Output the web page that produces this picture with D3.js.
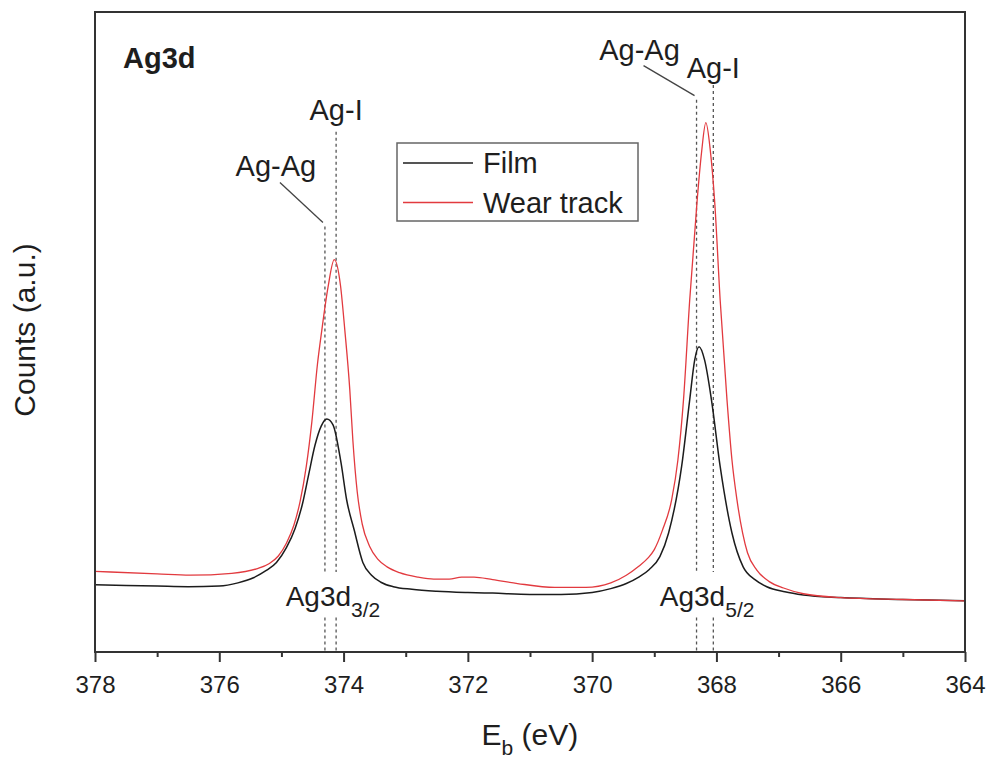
<!DOCTYPE html>
<html>
<head>
<meta charset="utf-8">
<script src="https://cdn.jsdelivr.net/npm/d3@7"></script>
<style>
  body { margin: 0; background: #fff; }
  text { font-family: "Liberation Sans", Arial, sans-serif; fill: #1e1e1e; }
</style>
</head>
<body>
<div id="wrapper"></div>
<script>
// Film (black) spectrum
const filmEnergy = [378.0, 377.0, 376.5, 376.0, 375.7, 375.45, 375.25, 375.08, 374.92, 374.78, 374.66, 374.56, 374.46, 374.36, 374.27, 374.17, 374.04, 373.95, 373.83, 373.69, 373.55, 373.4, 373.2, 372.9, 372.5, 372.0, 371.6, 371.0, 370.5, 370.0, 369.7, 369.45, 369.25, 369.08, 368.91, 368.77, 368.56, 368.43, 368.35, 368.28, 368.19, 368.08, 367.94, 367.75, 367.57, 367.38, 367.19, 366.9, 366.6, 366.0, 365.0, 364.0];
const filmCounts = [10.5, 10.3, 10.2, 10.3, 10.8, 11.6, 12.7, 14.0, 16.3, 19.3, 23.2, 27.8, 32.3, 35.3, 36.4, 35.5, 29.5, 23.75, 19.1, 14.0, 12.0, 10.9, 10.2, 9.8, 9.5, 9.3, 9.2, 9.0, 9.0, 9.3, 9.9, 10.7, 11.7, 12.9, 14.9, 18.6, 29.0, 39.4, 45.6, 47.7, 45.6, 39.4, 29.0, 18.6, 13.3, 11.3, 10.2, 9.4, 8.9, 8.5, 8.2, 8.0];

// Wear track (red) spectrum
const wearEnergy = [378.0, 377.0, 376.47, 375.8, 375.4, 375.2, 375.05, 374.92, 374.8, 374.7, 374.6, 374.51, 374.42, 374.35, 374.25, 374.15, 374.05, 373.98, 373.9, 373.85, 373.78, 373.7, 373.58, 373.45, 373.3, 373.1, 372.8, 372.55, 372.3, 372.1, 371.9, 371.6, 371.2, 370.6, 370.1, 369.7, 369.45, 369.25, 369.1, 369.0, 368.87, 368.72, 368.62, 368.53, 368.43, 368.31, 368.24, 368.17, 368.1, 368.03, 367.94, 367.83, 367.75, 367.67, 367.5, 367.35, 367.15, 366.92, 366.6, 366.0, 365.0, 364.0];
const wearCounts = [12.6, 12.2, 12.0, 12.3, 13.0, 13.8, 15.0, 17.0, 19.8, 23.5, 29.0, 36.0, 45.0, 50.3, 57.0, 61.3, 57.3, 50.3, 41.0, 33.0, 25.0, 20.0, 16.5, 14.5, 13.3, 12.4, 11.7, 11.4, 11.4, 11.7, 11.7, 11.3, 10.7, 10.1, 10.1, 10.8, 12.0, 13.4, 14.7, 16.0, 19.0, 23.8, 30.0, 39.4, 55.0, 70.6, 78.0, 82.7, 78.5, 70.6, 55.0, 39.4, 30.0, 23.8, 15.5, 12.8, 11.0, 10.0, 9.1, 8.5, 8.2, 8.0];

const majorTicks = [378, 376, 374, 372, 370, 368, 366, 364];
const minorTicks = [377, 375, 373, 371, 369, 367, 365];

// reference lines: energy, top (counts), label
const refEnergy = [374.30, 374.12, 368.32, 368.05];
const refTop = [66.5, 81.3, 86.3, 88.6];
const refLabel = ["Ag-Ag", "Ag-I", "Ag-Ag", "Ag-I"];

const seriesNames = ["Film", "Wear track"];
const seriesColors = ["#1c1c1c", "#e23a3f"];

const dimensions = {
  width: 992,
  height: 759,
  margin: { top: 12, right: 27, bottom: 107, left: 95 },
};
dimensions.boundedWidth = dimensions.width - dimensions.margin.left - dimensions.margin.right;
dimensions.boundedHeight = dimensions.height - dimensions.margin.top - dimensions.margin.bottom;

const svg = d3.select("#wrapper").append("svg")
  .attr("width", dimensions.width)
  .attr("height", dimensions.height);

const bounds = svg.append("g")
  .attr("transform", `translate(${dimensions.margin.left},${dimensions.margin.top})`);

const xScale = d3.scaleLinear().domain([378, 364]).range([0, dimensions.boundedWidth]);
const yScale = d3.scaleLinear().domain([0, 100]).range([dimensions.boundedHeight, 0]);

const lineGen = d3.line()
  .x((d) => xScale(d[0]))
  .y((d) => yScale(d[1]))
  .curve(d3.curveMonotoneX);

// dashed reference lines (with a gap for the peak labels)
const gapTop = 12.5, gapBottom = 5.4;
refEnergy.forEach((e, i) => {
  [[refTop[i], gapTop], [gapBottom, 0]].forEach(([a, b]) => {
    bounds.append("line")
      .attr("x1", xScale(e)).attr("x2", xScale(e))
      .attr("y1", yScale(a)).attr("y2", yScale(b))
      .attr("stroke", "#555")
      .attr("stroke-width", 1.3)
      .attr("stroke-dasharray", "3,3");
  });
});

// spectra
const series = [
  d3.zip(filmEnergy, filmCounts),
  d3.zip(wearEnergy, wearCounts),
];
series.forEach((s, i) => {
  bounds.append("path")
    .datum(s)
    .attr("d", lineGen)
    .attr("fill", "none")
    .attr("stroke", seriesColors[i])
    .attr("stroke-width", i === 0 ? 1.5 : 1.3);
});

// axes
const xAxis = bounds.append("g")
  .attr("transform", `translate(0,${dimensions.boundedHeight})`)
  .call(d3.axisBottom(xScale).tickValues(majorTicks).tickSize(10).tickPadding(14).tickFormat(d3.format("d")));
xAxis.select(".domain").remove();
xAxis.selectAll("line").attr("stroke", "#333").attr("stroke-width", 2);
xAxis.selectAll("text").style("font-size", "24px").style("font-family", "Liberation Sans, Arial, sans-serif").attr("fill", "#1e1e1e");

const xMinor = bounds.append("g")
  .attr("transform", `translate(0,${dimensions.boundedHeight})`)
  .call(d3.axisBottom(xScale).tickValues(minorTicks).tickSize(5).tickFormat(""));
xMinor.select(".domain").remove();
xMinor.selectAll("line").attr("stroke", "#333").attr("stroke-width", 2);

// frame
bounds.append("rect")
  .attr("width", dimensions.boundedWidth)
  .attr("height", dimensions.boundedHeight)
  .attr("fill", "none")
  .attr("stroke", "#333")
  .attr("stroke-width", 2);

// panel title
bounds.append("text")
  .attr("x", 28).attr("y", 56)
  .style("font-size", "29px").style("font-weight", "bold")
  .text("Ag3d");

// reference labels + leader lines
const labelOffset = [[-49, -50], [0, -12], [-57, -40], [0, -7]];
refEnergy.forEach((e, i) => {
  const x0 = xScale(e), y0 = yScale(refTop[i]);
  const lx = x0 + labelOffset[i][0], ly = y0 + labelOffset[i][1];
  if (refLabel[i] === "Ag-Ag") {
    bounds.append("line")
      .attr("x1", lx + 4).attr("y1", ly + 6)
      .attr("x2", x0 - 2).attr("y2", y0 - 4)
      .attr("stroke", "#444").attr("stroke-width", 1.3);
  }
  bounds.append("text")
    .attr("x", lx).attr("y", ly)
    .attr("text-anchor", "middle")
    .style("font-size", "29px")
    .text(refLabel[i]);
});

// peak labels
const peakLabels = [
  { energy: 374.17, sub: "3/2" },
  { energy: 368.15, sub: "5/2" },
];
peakLabels.forEach((p) => {
  const t = bounds.append("text")
    .attr("x", xScale(p.energy)).attr("y", yScale(7.2))
    .attr("text-anchor", "middle")
    .style("font-size", "28px");
  t.append("tspan").text("Ag3d");
  t.append("tspan").attr("dy", 11).style("font-size", "21px").text(p.sub);
});

// legend
const legend = bounds.append("g").attr("transform", "translate(302,131)");
legend.append("rect")
  .attr("width", 241).attr("height", 78)
  .attr("fill", "#fff")
  .attr("stroke", "#666").attr("stroke-width", 1.5);
seriesNames.forEach((name, i) => {
  const yy = 20 + i * 39.5;
  legend.append("line")
    .attr("x1", 6).attr("x2", 76)
    .attr("y1", yy).attr("y2", yy)
    .attr("stroke", seriesColors[i]).attr("stroke-width", 1.3);
  legend.append("text")
    .attr("x", 86).attr("y", yy + 10)
    .style("font-size", "29px")
    .text(name);
});

// axis labels
const xLabel = svg.append("text")
  .attr("x", dimensions.margin.left + xScale(371.78))
  .attr("y", 745)
  .style("font-size", "30px");
xLabel.append("tspan").text("E");
xLabel.append("tspan").attr("dy", 10).style("font-size", "21px").text("b");
xLabel.append("tspan").attr("dy", -10).text(" (eV)");

svg.append("text")
  .attr("transform", "translate(35,330) rotate(-90)")
  .attr("text-anchor", "middle")
  .style("font-size", "30px")
  .text("Counts (a.u.)");
</script>
</body>
</html>
